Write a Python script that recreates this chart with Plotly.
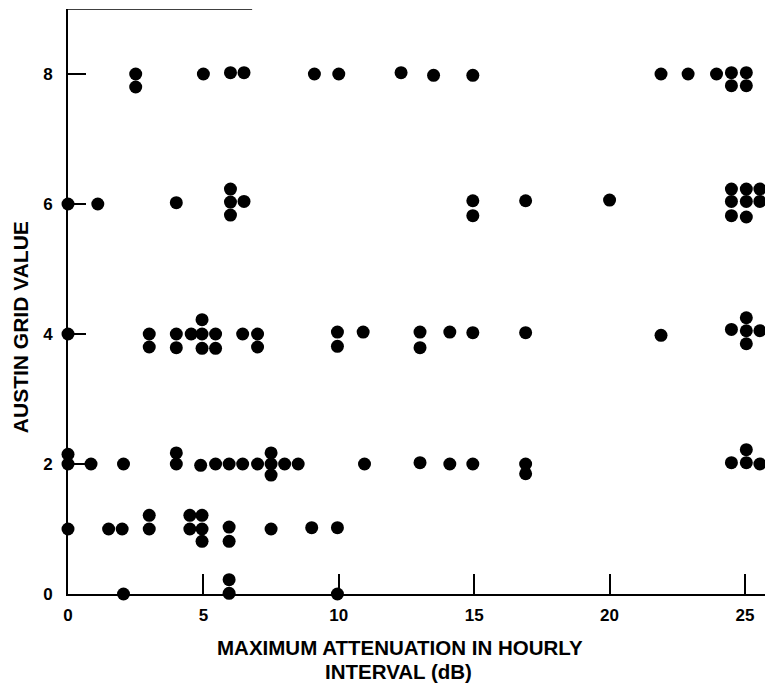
import plotly.graph_objects as go

# Austin grid value vs. maximum attenuation in the hourly interval.
# Stacked dots at one grid value are drawn slightly above/below the row.
row8_x = [2.5, 2.5, 5.0, 6.0, 6.5, 9.1, 10.0, 12.3, 13.5, 14.95, 21.9, 22.9, 23.95, 24.5, 24.5, 25.05, 25.05]
row8_y = [8.0, 7.8, 8.0, 8.02, 8.02, 8.0, 8.0, 8.02, 7.98, 7.98, 8.0, 8.0, 8.0, 8.02, 7.82, 8.02, 7.82]

row6_x = [0.0, 1.1, 4.0, 6.0, 6.0, 6.0, 6.5, 14.95, 14.95, 16.9, 20.0,
          24.5, 24.5, 24.5, 25.05, 25.05, 25.05, 25.55, 25.55]
row6_y = [6.0, 6.0, 6.02, 6.23, 6.03, 5.83, 6.04, 6.05, 5.82, 6.05, 6.06,
          6.23, 6.04, 5.82, 6.23, 6.04, 5.8, 6.23, 6.04]

row4_x = [0.0, 3.0, 3.0, 4.0, 4.0, 4.55, 4.95, 4.95, 4.95, 5.45, 5.45, 6.45, 7.0, 7.0,
          9.95, 9.95, 10.9, 13.0, 13.0, 14.1, 14.95, 16.9, 21.9,
          24.5, 25.05, 25.05, 25.05, 25.55]
row4_y = [4.0, 4.0, 3.8, 4.0, 3.79, 4.0, 4.22, 4.0, 3.78, 4.0, 3.78, 4.0, 4.0, 3.8,
          4.03, 3.81, 4.03, 4.03, 3.79, 4.03, 4.02, 4.02, 3.98,
          4.07, 4.25, 4.05, 3.85, 4.05]

row2_x = [0.0, 0.0, 0.85, 2.05, 4.0, 4.0, 4.9, 5.45, 5.95, 6.45, 7.0, 7.5, 7.5, 7.5, 8.0, 8.5,
          10.95, 13.0, 14.1, 14.95, 16.9, 16.9, 24.5, 25.05, 25.05, 25.55]
row2_y = [2.15, 2.0, 2.0, 2.0, 2.17, 2.0, 1.98, 2.0, 2.0, 2.0, 2.0, 2.17, 2.0, 1.83, 2.0, 2.0,
          2.0, 2.02, 2.0, 2.0, 2.0, 1.85, 2.02, 2.22, 2.02, 2.0]

row1_x = [0.0, 1.5, 2.0, 3.0, 3.0, 4.5, 4.5, 4.95, 4.95, 4.95, 5.95, 5.95, 7.5, 9.0, 9.95]
row1_y = [1.0, 1.0, 1.0, 1.21, 1.0, 1.21, 1.0, 1.21, 1.0, 0.81, 1.03, 0.81, 1.0, 1.02, 1.02]

row0_x = [2.05, 5.95, 5.95, 9.95]
row0_y = [0.0, 0.22, 0.01, 0.0]

x_ticks = [0, 5, 10, 15, 20, 25]
y_ticks = [0, 2, 4, 6, 8]

all_x = row8_x + row6_x + row4_x + row2_x + row1_x + row0_x
all_y = row8_y + row6_y + row4_y + row2_y + row1_y + row0_y

fig = go.Figure(
    go.Scatter(
        x=all_x, y=all_y, mode="markers",
        marker=dict(size=13, color="black", line=dict(width=0)),
        cliponaxis=False, hoverinfo="x+y",
    )
)

base_font = "Liberation Sans, Arial, sans-serif"
tick_font = dict(family=base_font, size=17, color="black", weight="bold")
xtitle_font = dict(family=base_font, size=20.5, color="black", weight="bold")

fig.update_layout(
    width=765, height=685,
    margin=dict(l=68, r=0, t=9, b=91),
    plot_bgcolor="white", paper_bgcolor="white",
    showlegend=False,
    xaxis=dict(
        range=[0, 25.74], tickvals=x_ticks, ticktext=[str(v) for v in x_ticks],
        ticks="inside", ticklen=20, tickwidth=1.5, tickcolor="black",
        showline=True, linecolor="black", linewidth=1.5,
        showgrid=False, zeroline=False, tickfont=tick_font, ticklabelstandoff=5,
    ),
    yaxis=dict(
        range=[0, 9], tickvals=y_ticks, ticktext=[str(v) for v in y_ticks],
        ticks="inside", ticklen=18, tickwidth=1.5, tickcolor="black",
        showline=True, linecolor="black", linewidth=2,
        showgrid=False, zeroline=False, tickfont=tick_font, ticklabelstandoff=10,
    ),
    shapes=[
        # short top frame segment
        dict(type="line", xref="x", yref="y", x0=0, x1=6.8, y0=9, y1=9,
             line=dict(color="black", width=1.5)),
    ],
    annotations=[
        dict(text="AUSTIN GRID VALUE", xref="paper", yref="paper",
             x=-0.069, y=0.456, textangle=-90, showarrow=False,
             xanchor="center", yanchor="middle",
             font=dict(family=base_font, size=21, color="black", weight="bold")),
        dict(text="MAXIMUM ATTENUATION IN HOURLY",
             xref="paper", yref="paper", x=0.476, y=-0.0923,
             showarrow=False, xanchor="center", yanchor="middle", font=xtitle_font),
        dict(text="INTERVAL (dB)",
             xref="paper", yref="paper", x=0.474, y=-0.1325,
             showarrow=False, xanchor="center", yanchor="middle", font=xtitle_font),
    ],
)

fig.write_html("out.html")
